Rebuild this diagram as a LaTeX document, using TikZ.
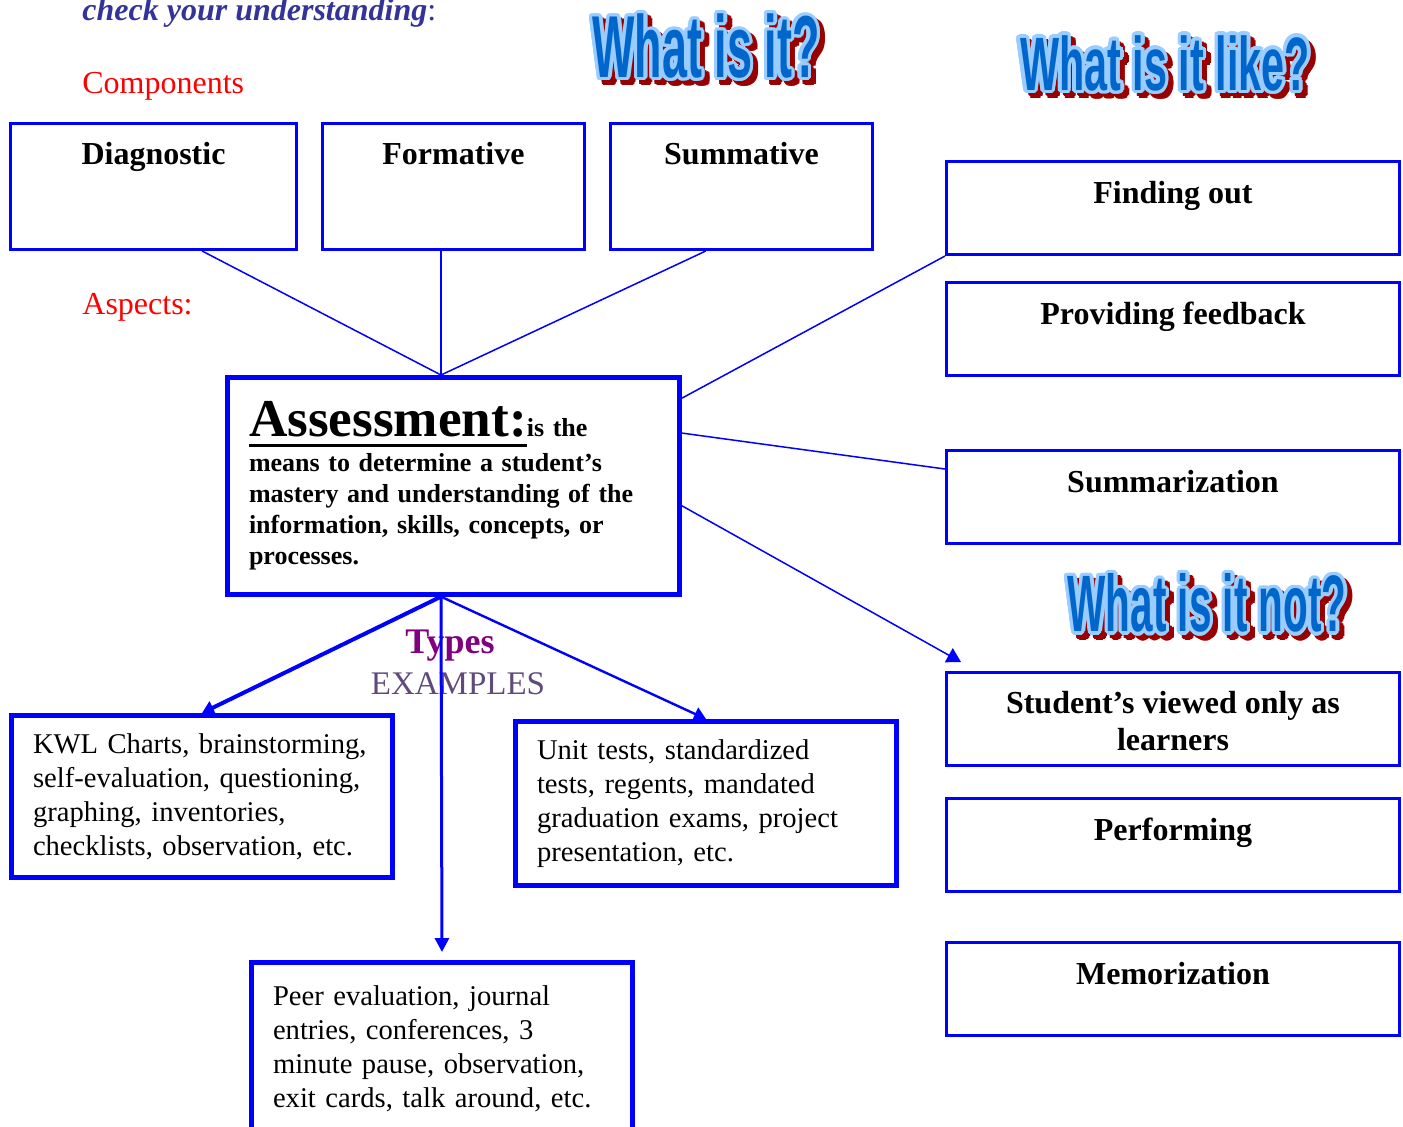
\documentclass[tikz,border=0pt]{standalone}
\usepackage{fontspec}
\setmainfont{Liberation Serif}
\newfontfamily\artfont{Liberation Sans}
\usepackage{xcolor}
\usepackage{graphicx}
\usepackage{tikz}
\usetikzlibrary{arrows.meta,calc}

\definecolor{linkblue}{RGB}{0,0,255}
\definecolor{askblue}{RGB}{51,51,153}
\definecolor{typepurple}{RGB}{128,0,128}
\definecolor{examplegray}{RGB}{96,74,123}
\definecolor{artfill}{RGB}{0,102,204}
\definecolor{artedge}{RGB}{153,204,255}
\definecolor{artshade}{RGB}{153,0,0}

\newsavebox\ulbox
\newcommand{\thickuline}[1]{\sbox\ulbox{#1}\rlap{\rule[-5.3pt]{\wd\ulbox}{1.8pt}}\usebox\ulbox}

\tikzset{
  compbox/.style={draw=linkblue, line width=1.5pt, minimum height=63pt, inner sep=0pt},
  aspectbox/.style={draw=linkblue, line width=1.5pt, minimum width=226.5pt, minimum height=46.5pt, inner sep=0pt},
  boxtitle/.style={anchor=base, align=center, inner sep=0pt, font=\fontsize{16}{18.5}\selectfont\bfseries},
  examplebox/.style={draw=linkblue, line width=2.5pt, anchor=north west, align=left, text width=169pt,
    inner xsep=10.75pt, inner ysep=9pt, font=\fontsize{14.3}{17}\selectfont},
  wordart/.style={inner sep=0pt, font=\artfont\bfseries\fontsize{44}{44}\selectfont},
  thinlink/.style={linkblue, line width=0.75pt},
  redlabel/.style={anchor=base west, inner sep=0pt, text=red, font=\fontsize{16}{19}\selectfont},
}

%% layered title: shadow, light outline, then the fill
\newcommand{\wordart}[5]{%
  \foreach \a in {0,30,...,330}
    \node[wordart, text=artshade] at ($(#2)+(5,5)+(\a:3.5)$) {\scalebox{#3}[#4]{#5}};
  \foreach \a in {0,20,...,340}
    \node[wordart, text=artedge] at ($(#2)+(\a:3.5)$) {\scalebox{#3}[#4]{#5}};
  \node[wordart, text=artfill] (#1) at (#2) {\scalebox{#3}[#4]{#5}};
}

\begin{document}
\begin{tikzpicture}[x=0.5pt, y=-0.5pt]
        \useasboundingbox (0,0) rectangle (1403,1126);
        %% headings
        \node[anchor=base west, inner sep=0pt, text=askblue, font=\fontsize{16}{19}\selectfont] (check) at (82,20)
            {{\bfseries\itshape check your understanding}:};
        \node[redlabel] (components) at (82,93) {Components};
        \node[redlabel] (aspects) at (82,314) {Aspects:};
        \wordart{whatis}{706,46}{0.51}{1}{What is it?}
        \wordart{whatlike}{1165,63}{0.47}{0.86}{What is it  like?}
        \wordart{whatnot}{1207,603}{0.46}{0.91}{What is it not?}
        %% components
        \node[compbox, minimum width=143pt] (diag) at (153.5,186.5) {};
        \node[compbox, minimum width=131pt] (form) at (453.5,186.5) {};
        \node[compbox, minimum width=131pt] (summ) at (741.5,186.5) {};
        \node[boxtitle] (diagtitle) at ($(diag.north)+(0,42.5)$) {Diagnostic};
        \node[boxtitle] (formtitle) at ($(form.north)+(0,42.5)$) {Formative};
        \node[boxtitle] (summtitle) at ($(summ.north)+(0,42.5)$) {Summative};
        %% what is it like / not
        \node[aspectbox] (find) at (1173,208) {};
        \node[aspectbox] (feed) at (1173,328.5) {};
        \node[aspectbox] (sumz) at (1173,497) {};
        \node[aspectbox] (view) at (1173,719) {};
        \node[aspectbox] (perf) at (1173,845) {};
        \node[aspectbox] (memo) at (1173,989) {};
        \node[boxtitle] (findtitle) at ($(find.north)+(0,43.5)$) {Finding out};
        \node[boxtitle] (feedtitle) at ($(feed.north)+(0,43.5)$) {Providing feedback};
        \node[boxtitle] (sumztitle) at ($(sumz.north)+(0,43.5)$) {Summarization};
        \node[boxtitle, anchor=center] (viewtitle) at ($(view.center)+(0,2)$) {Student’s viewed only as\\learners};
        \node[boxtitle] (perftitle) at ($(perf.north)+(0,43.5)$) {Performing};
        \node[boxtitle] (memotitle) at ($(memo.north)+(0,43.5)$) {Memorization};
        %% assessment
        \node[draw=linkblue, line width=2.5pt, anchor=north west, align=left, text width=204.5pt,
              inner xsep=10.75pt, inner ysep=12pt,
              font=\bfseries\fontsize{13}{15.5}\selectfont] (assess) at (225,375)
            {{\fontsize{26.6}{30}\selectfont\thickuline{Assessment:}}is the\\[2pt]
             means to determine a student’s\\
             mastery and understanding of the\\
             information, skills, concepts, or\\
             processes.};
        \coordinate (hubtop) at ($(assess.north)+(-12.5,0)$);
        \coordinate (hubbot) at ($(assess.south)+(-12.5,0)$);
        \coordinate (viewtip) at ($(view.north west)+(16,-9)$);
        %% types / examples
        \node[anchor=base, inner sep=0pt, text=typepurple, font=\bfseries\fontsize{18}{21}\selectfont] (types) at (450,653) {Types};
        \node[anchor=base, inner sep=0pt, text=examplegray, font=\fontsize{16.5}{19}\selectfont] (examples) at (458,694) {EXAMPLES};
        \node[examplebox] (kwl) at (9,713)
            {KWL Charts, brainstorming,\\self-evaluation, questioning,\\graphing, inventories,\\checklists, observation, etc.};
        \node[examplebox] (unit) at (513,719)
            {Unit tests, standardized\\tests, regents, mandated\\graduation exams, project\\presentation, etc.};
        \node[examplebox, minimum height=86pt] (peer) at (249,960)
            {Peer evaluation, journal\\entries, conferences, 3\\minute pause, observation,\\exit cards, talk around, etc.};
        %% connectors
        \draw[thinlink] (diag.-53) -- (hubtop);
        \draw[thinlink] (form.south -| hubtop) -- (hubtop);
        \draw[thinlink] (summ.-119.4) -- (hubtop);
        \draw[thinlink] (find.south west) -- (assess.21.5);
        \draw[thinlink] (assess.13.2) -- (sumz.173.5);
        \draw[thinlink, -{Triangle[width=8pt,length=7pt]}] (assess.-5) -- (viewtip);
        \draw[linkblue, line width=2pt, -{Triangle[width=7pt,length=6pt]}] (hubbot) -- (kwl.north);
        \draw[linkblue, line width=1.2pt, -{Triangle[width=7pt,length=6pt]}] (hubbot) -- (unit.north);
        \draw[linkblue, line width=1.5pt, -{Triangle[width=7pt,length=7pt]}, shorten >=4pt] (hubbot) -- (peer.north);
    \end{tikzpicture}
\end{document}
